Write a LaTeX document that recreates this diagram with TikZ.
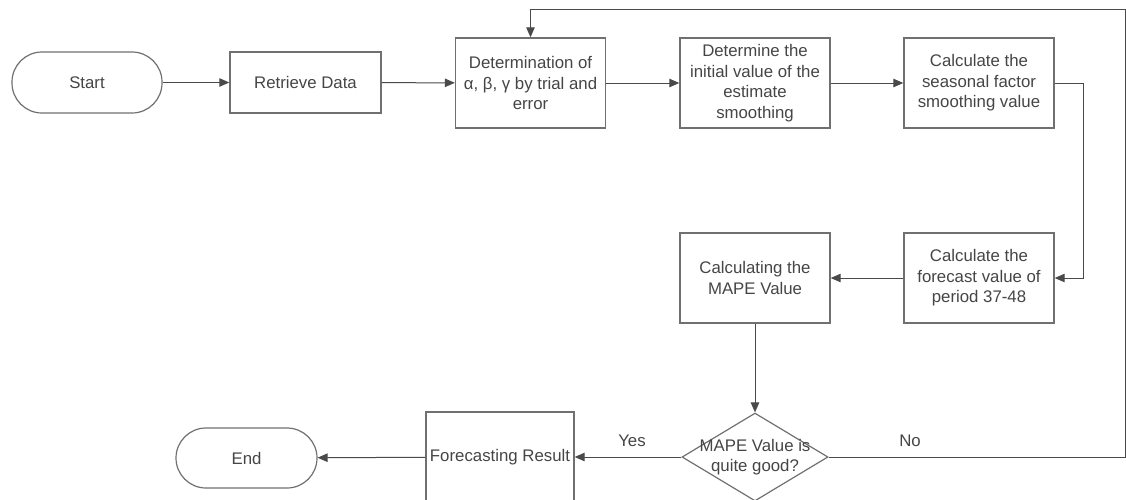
\documentclass[tikz,border=0pt]{standalone}
\usepackage{fontspec}
\setmainfont{Liberation Sans}
\usetikzlibrary{arrows.meta,shapes.geometric}
\definecolor{boxc}{HTML}{707070}
\definecolor{linec}{HTML}{4A4A4A}
\definecolor{txtc}{HTML}{454545}
\begin{document}
\begin{tikzpicture}[x=1pt,y=-1pt,
  every node/.style={font=\fontsize{16.8}{20.5}\selectfont, text=txtc},
  proc/.style={draw=boxc, line width=1.4pt, minimum width=150pt, minimum height=90pt, inner sep=0pt, align=center},
  term/.style={draw=boxc, line width=1.2pt, rounded corners=30pt, minimum width=150pt, minimum height=61pt, inner sep=0pt, align=center},
  conn/.style={draw=linec, line width=1pt, -{Triangle[length=10pt,width=8.5pt]}},
  lbl/.style={inner sep=1pt}]
\useasboundingbox (0,0) rectangle (1126,499);
\clip (0,0) rectangle (1126,499);
\node[term] (start) at (87,82.5) {Start};
\node[proc, minimum width=151pt, minimum height=61pt] (ret) at (305.5,82.5) {Retrieve Data};
\node[proc] (det) at (530.5,83) {Determination of\\α, β, γ by trial and\\error};
\node[proc] (ini) at (755,83) {Determine the\\initial value of the\\estimate\\smoothing};
\node[proc] (sea) at (979,83) {Calculate the\\seasonal factor\\smoothing value};
\node[proc] (fc) at (979,278) {Calculate the\\forecast value of\\period 37-48};
\node[proc] (mape) at (755,278) {Calculating the\\MAPE Value};
\node[diamond, draw=boxc, line width=1.2pt, minimum width=146pt, minimum height=88pt, inner sep=0pt,
      label={[align=center]center:MAPE Value is\\quite good?}] (dec) at (755,457) {};
\node[proc, minimum width=148pt] (res) at (500,457) {Forecasting Result};
\node[term, minimum width=141pt, minimum height=60pt] (end) at (246.5,458) {End};
\node[lbl] (yes) at (632,441) {Yes};
\node[lbl] (no) at (910,441) {No};
\coordinate (rb) at (1125,457);
\coordinate (rt) at (1125,9);
\draw[conn] (start) -- (ret);
\draw[conn] (ret) -- (det);
\draw[conn] (det) -- (ini);
\draw[conn] (ini) -- (sea);
\draw[conn] (sea.east) -- ++(29,0) |- (fc.east);
\draw[conn] (fc) -- (mape);
\draw[conn] (mape) -- (dec);
\draw[conn] (dec) -- (res);
\draw[conn] (res) -- (end);
\draw[conn] (dec.east) -- (rb) -- (rt) -| (det.north);
\end{tikzpicture}
\end{document}
